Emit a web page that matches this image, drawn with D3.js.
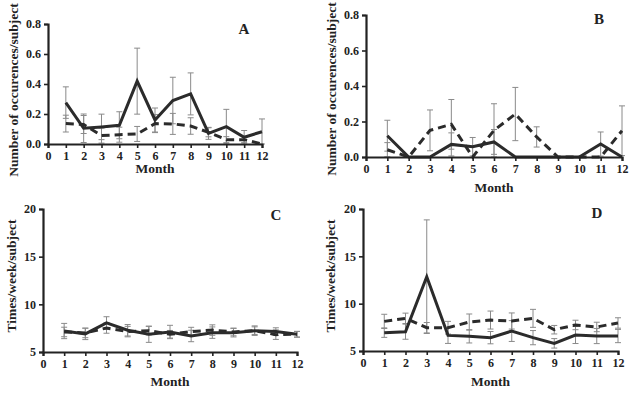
<!DOCTYPE html>
<html>
<head>
<meta charset="utf-8">
<script src="https://cdn.jsdelivr.net/npm/d3@7"></script>
<style>
  body { margin: 0; background: #fff; }
  svg text { font-family: "Liberation Serif", "Times New Roman", serif; font-weight: bold; fill: #222; }
</style>
</head>
<body>
<svg id="chart" width="640" height="393"></svg>
<script>
var months = [1, 2, 3, 4, 5, 6, 7, 8, 9, 10, 11, 12];
var xTicks = [0, 1, 2, 3, 4, 5, 6, 7, 8, 9, 10, 11, 12];

// panel A - occurrences
var aSolid   = [0.276, 0.105, 0.114, 0.125, 0.419, 0.16, 0.29, 0.334, 0.071, 0.116, 0.045, 0.082];
var aSolidE  = [0.105, 0.095, 0.085, 0.09, 0.22, 0.08, 0.155, 0.14, 0.04, 0.115, 0.045, 0.085];
var aDash    = [0.136, 0.13, 0.056, 0.062, 0.067, 0.136, 0.134, 0.12, 0.078, 0.029, 0.029, 0.0];
var aDashE   = [0.056, 0.06, 0.05, 0.05, 0.05, 0.06, 0.07, 0.055, 0.03, 0.02, 0.02, 0.0];

// panel B
var bSolid   = [0.12, 0, 0, 0.071, 0.058, 0.085, 0, 0, 0, 0, 0.073, 0];
var bSolidE  = [0.087, 0, 0, 0.065, 0.052, 0.07, 0, 0, 0, 0, 0.068, 0];
var bDash    = [0.041, 0, 0.15, 0.184, 0, 0.15, 0.242, 0.113, 0, 0, 0, 0.148];
var bDashE   = [0.04, 0, 0.115, 0.14, 0, 0.15, 0.15, 0.057, 0, 0, 0, 0.14];

// panel C - times/week
var cSolid   = [7.2, 6.9, 8.05, 7.28, 6.86, 7.1, 6.68, 7.03, 7.03, 7.24, 7.14, 6.86];
var cSolidE  = [0.8, 0.6, 0.65, 0.6, 0.85, 0.7, 0.6, 0.6, 0.45, 0.5, 0.4, 0.3];
var cDash    = [7.1, 7.0, 7.52, 7.14, 7.24, 6.86, 7.14, 7.3, 7.1, 7.24, 6.82, 6.86];
var cDashE   = [0.5, 0.5, 0.55, 0.55, 0.45, 0.4, 0.45, 0.55, 0.4, 0.4, 0.5, 0.3];

// panel D
var dSolid   = [6.94, 7.04, 12.85, 6.65, 6.55, 6.41, 7.11, 6.41, 5.81, 6.69, 6.58, 6.58];
var dSolidE  = [0.5, 0.8, 6.0, 0.85, 0.7, 0.65, 1.1, 0.75, 0.5, 0.9, 0.8, 0.7];
var dDash    = [8.13, 8.45, 7.46, 7.46, 8.06, 8.27, 8.17, 8.45, 7.25, 7.75, 7.54, 7.96];
var dDashE   = [0.75, 0.55, 0.55, 0.67, 0.85, 0.95, 0.85, 0.95, 0.45, 0.5, 0.5, 0.55];

var occTicks = [0, 0.2, 0.4, 0.6, 0.8];
var timeTicks = [5, 10, 15, 20];

var svg = d3.select("#chart");

function drawPanel(p) {
  var g = svg.append("g");
  var x = d3.scaleLinear().domain([0, 12]).range([p.x0, p.x1]);
  var y = d3.scaleLinear().domain(p.yDomain).range([p.y0, p.y1]);

  // error bars first (grey)
  [[p.dash, p.dashE], [p.solid, p.solidE]].forEach(function(s) {
    months.forEach(function(m, i) {
      var v = s[0][i], e = s[1][i];
      if (e <= 0) return;
      var lo = Math.max(p.yDomain[0], v - e);
      g.append("line").attr("x1", x(m)).attr("x2", x(m))
        .attr("y1", y(lo)).attr("y2", y(v + e))
        .attr("stroke", "#8a8a8a").attr("stroke-width", 1);
      [v + e, lo].forEach(function(t) {
        g.append("line").attr("x1", x(m) - 3).attr("x2", x(m) + 3)
          .attr("y1", y(t)).attr("y2", y(t))
          .attr("stroke", "#8a8a8a").attr("stroke-width", 1);
      });
    });
  });

  var line = d3.line().x(function(d, i) { return x(months[i]); }).y(function(d) { return y(d); });
  g.append("path").datum(p.dash).attr("d", line)
    .attr("fill", "none").attr("stroke", "#2b2b2b").attr("stroke-width", 3)
    .attr("stroke-dasharray", "8,5");
  g.append("path").datum(p.solid).attr("d", line)
    .attr("fill", "none").attr("stroke", "#2b2b2b").attr("stroke-width", 3)
    .attr("stroke-linejoin", "miter");

  var xa = g.append("g").attr("transform", "translate(0," + p.y0 + ")")
    .call(d3.axisBottom(x).tickValues(xTicks).tickFormat(d3.format("d")).tickSizeOuter(0).tickSize(4).tickPadding(3));
  var ya = g.append("g").attr("transform", "translate(" + p.x0 + ",0)")
    .call(d3.axisLeft(y).tickValues(p.yTicks).tickFormat(p.fmt).tickSizeOuter(0).tickSize(4).tickPadding(3));
  [xa, ya].forEach(function(a) {
    a.select(".domain").attr("stroke", "#222").attr("stroke-width", 2.2);
    a.selectAll(".tick line").attr("stroke", "#222").attr("stroke-width", 1.6);
    a.selectAll("text").attr("font-size", 12).attr("font-family", null).attr("fill", "#1a1a1a");
  });

  g.append("text").attr("x", (p.x0 + p.x1) / 2).attr("y", p.monthY)
    .attr("text-anchor", "middle").attr("font-size", 13.5).text("Month");
  g.append("text").attr("transform", "translate(" + p.labX + "," + p.labY + ") rotate(-90)")
    .attr("text-anchor", "middle").attr("font-size", 13.5).text(p.ylabel);
  g.append("text").attr("x", p.letX).attr("y", p.letY)
    .attr("text-anchor", "middle").attr("font-size", 15).text(p.letter);
}

var f1 = d3.format(".1f"), f0 = d3.format("d");

drawPanel({ x0: 48, x1: 262, y0: 144, y1: 24, yDomain: [0, 0.8], yTicks: occTicks, fmt: f1,
  solid: aSolid, solidE: aSolidE, dash: aDash, dashE: aDashE,
  monthY: 173, labX: 18, labY: 90, ylabel: "Number of occurences/subject", letter: "A", letX: 244, letY: 34 });
drawPanel({ x0: 366, x1: 622, y0: 157, y1: 15, yDomain: [0, 0.8], yTicks: occTicks, fmt: f1,
  solid: bSolid, solidE: bSolidE, dash: bDash, dashE: bDashE,
  monthY: 192, labX: 336, labY: 89, ylabel: "Number of occurences/subject", letter: "B", letX: 599, letY: 24 });
drawPanel({ x0: 43, x1: 297, y0: 352, y1: 209, yDomain: [5, 20], yTicks: timeTicks, fmt: f0,
  solid: cSolid, solidE: cSolidE, dash: cDash, dashE: cDashE,
  monthY: 386, labX: 16, labY: 276, ylabel: "Times/week/subject", letter: "C", letX: 276, letY: 220 });
drawPanel({ x0: 363, x1: 618, y0: 351, y1: 209, yDomain: [5, 20], yTicks: timeTicks, fmt: f0,
  solid: dSolid, solidE: dSolidE, dash: dDash, dashE: dDashE,
  monthY: 386, labX: 335, labY: 276, ylabel: "Times/week/subject", letter: "D", letX: 597, letY: 218 });
</script>
</body>
</html>
